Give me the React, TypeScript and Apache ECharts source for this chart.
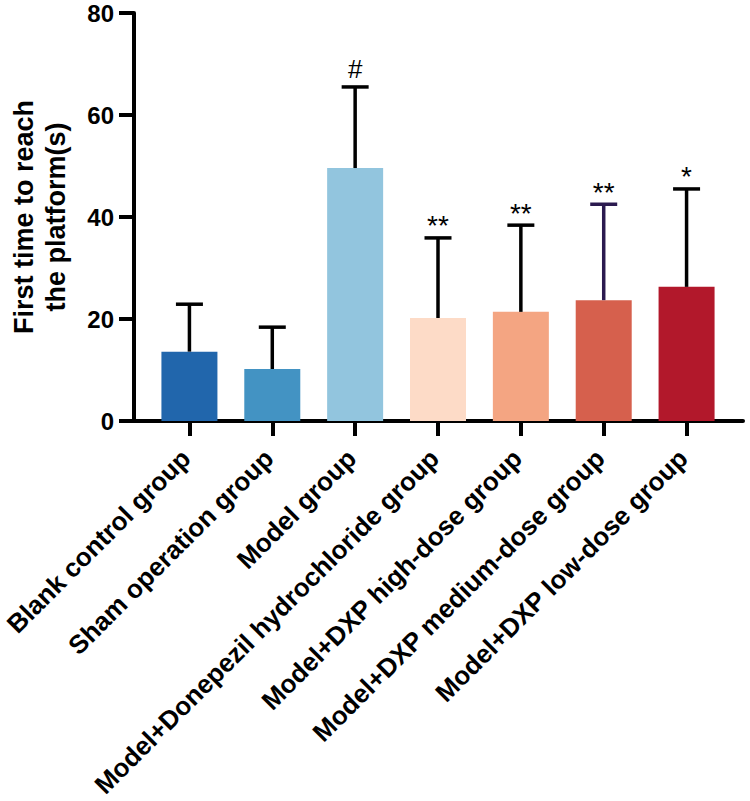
import React, { useEffect, useRef } from "react";
import * as echarts from "echarts";

const categories = [
  "Blank control group",
  "Sham operation group",
  "Model group",
  "Model+Donepezil hydrochloride group",
  "Model+DXP high-dose group",
  "Model+DXP medium-dose group",
  "Model+DXP low-dose group",
];
const means = [13.6, 10.2, 49.6, 20.2, 21.4, 23.7, 26.3];
const errors = [9.3, 8.2, 15.9, 15.7, 17.0, 18.8, 19.2];
const marks = ["", "", "#", "**", "**", "**", "*"];
const barColors = ["#2166ac", "#4393c3", "#92c5de", "#fddbc7", "#f4a582", "#d6604d", "#b2182b"];
const errColors = ["#000000", "#000000", "#000000", "#000000", "#000000", "#2b1a4f", "#000000"];
const yTicks = [0, 20, 40, 60, 80];

const FONT = "'Liberation Sans', Arial, sans-serif";

export default function App() {
  const ref = useRef<HTMLDivElement>(null);
  useEffect(() => {
    if (!ref.current) return;
    const chart = echarts.init(ref.current, null, { renderer: "svg" });
    const option: any = {
      animation: false,
      backgroundColor: "#ffffff",
      grid: [
        { left: 142, right: 22, top: 13, bottom: 380, containLabel: false },
        { left: 128, right: 7, top: 13, bottom: 380, containLabel: false },
      ],
      xAxis: [
        {
          type: "category",
          gridIndex: 0,
          data: categories,
          axisLine: { show: false },
          axisTick: {
            show: true,
            alignWithLabel: true,
            length: 15,
            lineStyle: { color: "#000", width: 4 },
          },
          axisLabel: {
            rotate: 45,
            interval: 0,
            margin: 11,
            padding: [0, 18, 0, 0],
            align: "right",
            verticalAlign: "top",
            color: "#000",
            fontFamily: FONT,
            fontWeight: "bold",
            fontSize: 26,
          },
        },
        {
          type: "value",
          gridIndex: 1,
          min: 0,
          max: 1,
          axisLine: { show: true, lineStyle: { color: "#000", width: 4 } },
          axisTick: { show: false },
          axisLabel: { show: false },
          splitLine: { show: false },
        },
      ],
      yAxis: [
        {
          type: "value",
          gridIndex: 0,
          min: yTicks[0],
          max: yTicks[yTicks.length - 1],
          interval: 20,
          offset: 14,
          name: "First time to reach\nthe platform(s)",
          nameLocation: "middle",
          nameRotate: 90,
          nameGap: 62,
          nameTextStyle: {
            color: "#000",
            fontFamily: FONT,
            fontWeight: "bold",
            fontSize: 27,
            lineHeight: 32,
          },
          axisLine: { show: true, lineStyle: { color: "#000", width: 4 } },
          axisTick: { show: true, length: 15, lineStyle: { color: "#000", width: 4 } },
          axisLabel: {
            margin: 20,
            color: "#000",
            fontFamily: FONT,
            fontWeight: "bold",
            fontSize: 24,
          },
          splitLine: { show: false },
        },
        {
          type: "value",
          gridIndex: 1,
          show: false,
        },
      ],
      series: [
        {
          type: "bar",
          xAxisIndex: 0,
          yAxisIndex: 0,
          barWidth: 56,
          data: means.map((v, i) => ({ value: v, itemStyle: { color: barColors[i] } })),
        },
        {
          type: "custom",
          xAxisIndex: 0,
          yAxisIndex: 0,
          z: 5,
          data: means.map((m, i) => [i, m, m + errors[i]]),
          renderItem: (params: any, api: any) => {
            const idx = api.value(0);
            const base = api.coord([idx, api.value(1)]);
            const top = api.coord([idx, api.value(2)]);
            const color = errColors[idx];
            const half = 13.5;
            const children: any[] = [
              {
                type: "line",
                shape: { x1: base[0], y1: base[1], x2: top[0], y2: top[1] },
                style: { stroke: color, lineWidth: 3.5 },
              },
              {
                type: "line",
                shape: { x1: top[0] - half, y1: top[1], x2: top[0] + half, y2: top[1] },
                style: { stroke: color, lineWidth: 3.5 },
              },
            ];
            const mark = marks[idx];
            if (mark) {
              children.push({
                type: "text",
                x: top[0],
                y: mark === "#" ? top[1] - 5 : top[1] + 2,
                style: {
                  text: mark,
                  fill: "#000",
                  fontFamily: FONT,
                  fontSize: mark === "#" ? 26 : 28,
                  align: "center",
                  verticalAlign: "bottom",
                },
              });
            }
            return { type: "group", children };
          },
        },
      ],
    };
    chart.setOption(option);
    return () => chart.dispose();
  }, []);
  return (
    <div
      ref={ref}
      style={{ position: "fixed", left: 0, top: 0, width: 750, height: 801 }}
    />
  );
}
